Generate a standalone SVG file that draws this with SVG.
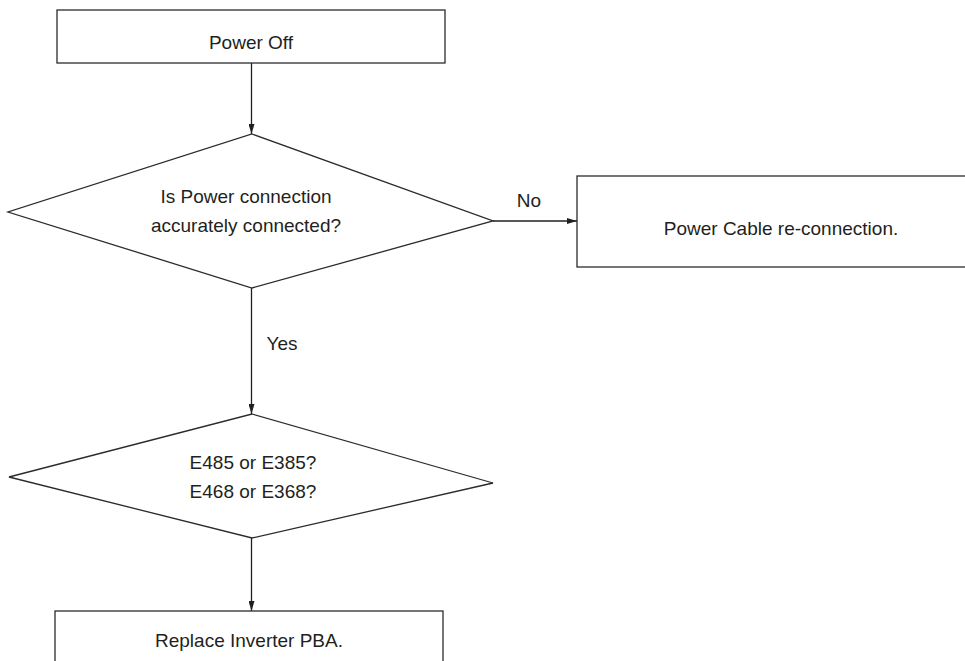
<svg xmlns="http://www.w3.org/2000/svg" width="965" height="661" viewBox="0 0 965 661">
  <style>
    .shape { fill: #ffffff; stroke: #2b2b2b; stroke-width: 1.3; }
    .wire { fill: none; stroke: #231f20; stroke-width: 1.3; }
    text { font-family: "Liberation Sans", Arial, sans-serif; font-size: 19px; fill: #231f20; text-anchor: middle; }
  </style>
  <defs>
    <marker id="arrow" viewBox="0 0 10 6" refX="10" refY="3" markerWidth="10" markerHeight="6" markerUnits="userSpaceOnUse" orient="auto">
      <path d="M0,0 L10,3 L0,6 Z" fill="#231f20"/>
    </marker>
  </defs>
  <rect width="965" height="661" fill="#ffffff"/>

  <!-- connectors -->
  <g id="connectors">
    <line class="wire" x1="251.5" y1="63" x2="251.5" y2="134" marker-end="url(#arrow)"/>
    <line class="wire" x1="493" y1="221" x2="577" y2="221" marker-end="url(#arrow)"/>
    <text x="529" y="207">No</text>
    <line class="wire" x1="251.5" y1="288" x2="251.5" y2="414" marker-end="url(#arrow)"/>
    <text x="282" y="350">Yes</text>
    <line class="wire" x1="251.5" y1="538" x2="251.5" y2="611" marker-end="url(#arrow)"/>
  </g>

  <!-- nodes -->
  <g id="power-off">
    <rect class="shape" x="57" y="10" width="388" height="53"/>
    <text x="251" y="49">Power Off</text>
  </g>

  <g id="check-connection">
    <polygon class="shape" points="252,134 493,221 252,288 8,212"/>
    <text x="246" y="203">Is Power connection</text>
    <text x="246" y="232">accurately connected?</text>
  </g>

  <g id="cable-reconnect">
    <rect class="shape" x="577" y="176" width="408" height="91"/>
    <text x="781" y="235">Power Cable re-connection.</text>
  </g>

  <g id="check-error">
    <polygon class="shape" points="252,414 493,483 252,538 9,477"/>
    <text x="253" y="469">E485 or E385?</text>
    <text x="253" y="498">E468 or E368?</text>
  </g>

  <g id="replace-inverter">
    <rect class="shape" x="55" y="611" width="388" height="70"/>
    <text x="249" y="647">Replace Inverter PBA.</text>
  </g>
</svg>
